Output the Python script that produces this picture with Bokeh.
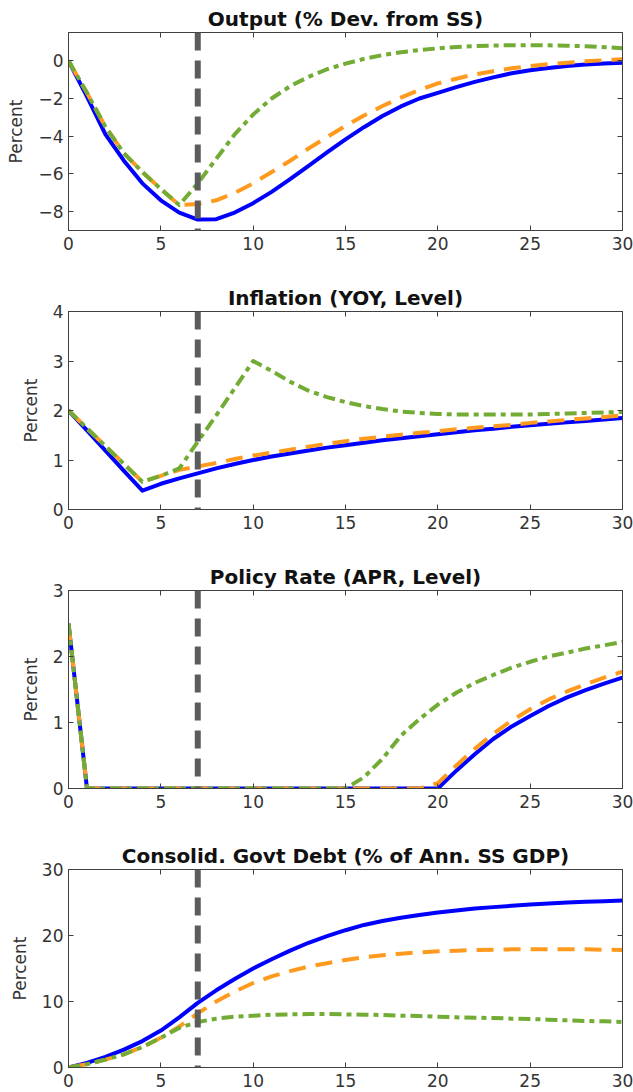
from bokeh.plotting import figure
from bokeh.layouts import column
from bokeh.models import Range1d, FixedTicker, LinearAxis, Span, CustomJSTickFormatter
from bokeh.embed import file_html
from bokeh.resources import INLINE

# ---------------- data ----------------
quarters = list(range(31))
x_ticks = [0, 5, 10, 15, 20, 25, 30]
shock_period = 7

# Output (% Dev. from SS)
output_blue = [0, -1.9, -3.9, -5.3, -6.5, -7.4, -8.05, -8.42, -8.4, -8.05, -7.55, -6.95,
               -6.28, -5.57, -4.86, -4.17, -3.52, -2.93, -2.42, -2.0, -1.7, -1.4, -1.12,
               -0.88, -0.66, -0.5, -0.38, -0.28, -0.2, -0.14, -0.1]
output_orange = [0, -1.7, -3.5, -4.9, -5.9, -6.8, -7.65, -7.6, -7.4, -7.0, -6.5, -5.9,
                 -5.3, -4.65, -4.05, -3.45, -2.9, -2.4, -1.95, -1.55, -1.2, -0.95, -0.72,
                 -0.55, -0.4, -0.28, -0.18, -0.1, -0.03, 0.03, 0.08]
output_green = [0, -1.7, -3.5, -4.9, -5.9, -6.8, -7.65, -6.5, -5.2, -3.9, -2.85, -2.0,
                -1.35, -0.85, -0.45, -0.15, 0.1, 0.3, 0.45, 0.57, 0.66, 0.73, 0.78,
                0.81, 0.83, 0.83, 0.82, 0.8, 0.77, 0.72, 0.67]
output_yticks = [-8, -6, -4, -2, 0]

# Inflation (YOY, Level)
infl_blue = [2.0, 1.6, 1.19, 0.78, 0.38, 0.52, 0.63, 0.73, 0.83, 0.92, 1.0, 1.07,
             1.13, 1.19, 1.25, 1.3, 1.35, 1.4, 1.44, 1.48, 1.52, 1.56, 1.6, 1.63,
             1.67, 1.7, 1.73, 1.76, 1.79, 1.82, 1.85]
infl_orange = [2.0, 1.64, 1.28, 0.92, 0.56, 0.68, 0.8, 0.87, 0.94, 1.02, 1.09, 1.15,
               1.21, 1.27, 1.33, 1.38, 1.43, 1.47, 1.51, 1.55, 1.58, 1.62, 1.65, 1.68,
               1.71, 1.75, 1.78, 1.81, 1.84, 1.87, 1.9]
infl_green = [2.0, 1.64, 1.28, 0.92, 0.56, 0.68, 0.83, 1.37, 1.9, 2.45, 3.0, 2.8,
              2.58, 2.4, 2.27, 2.17, 2.09, 2.03, 1.98, 1.95, 1.93, 1.92, 1.92, 1.92,
              1.92, 1.92, 1.93, 1.94, 1.95, 1.96, 1.97]
infl_yticks = [0, 1, 2, 3, 4]

# Policy Rate (APR, Level)
rate_blue = [2.5, 0, 0, 0, 0, 0, 0, 0, 0, 0, 0, 0, 0, 0, 0, 0, 0, 0, 0, 0, 0,
             0.27, 0.52, 0.75, 0.94, 1.1, 1.25, 1.38, 1.49, 1.59, 1.68]
rate_orange = [2.5, 0, 0, 0, 0, 0, 0, 0, 0, 0, 0, 0, 0, 0, 0, 0, 0, 0, 0, 0, 0.08,
               0.35, 0.6, 0.83, 1.03, 1.2, 1.35, 1.47, 1.58, 1.68, 1.77]
rate_green = [2.5, 0, 0, 0, 0, 0, 0, 0, 0, 0, 0, 0, 0, 0, 0, 0, 0.17, 0.45, 0.8, 1.05,
              1.27, 1.45, 1.6, 1.72, 1.83, 1.92, 2.0, 2.06, 2.12, 2.17, 2.22]
rate_yticks = [0, 1, 2, 3]

# Consolid. Govt Debt (% of Ann. SS GDP)
debt_blue = [0, 0.7, 1.6, 2.7, 4.0, 5.6, 7.6, 9.8, 11.7, 13.4, 15.0, 16.4, 17.7, 18.9,
             19.9, 20.8, 21.6, 22.2, 22.7, 23.1, 23.5, 23.8, 24.1, 24.3, 24.5, 24.7,
             24.85, 25.0, 25.1, 25.2, 25.3]
debt_orange = [0, 0.5, 1.2, 2.0, 3.1, 4.5, 6.2, 8.2, 10.0, 11.5, 12.8, 13.8, 14.6, 15.3,
               15.8, 16.3, 16.7, 17.0, 17.25, 17.45, 17.6, 17.7, 17.8, 17.85, 17.9, 17.9,
               17.9, 17.9, 17.9, 17.85, 17.8]
debt_green = [0, 0.5, 1.2, 2.0, 3.1, 4.5, 6.0, 6.9, 7.4, 7.7, 7.85, 8.0, 8.05, 8.1, 8.1,
              8.05, 8.0, 7.95, 7.85, 7.8, 7.7, 7.6, 7.55, 7.5, 7.4, 7.35, 7.25, 7.15,
              7.05, 7.0, 6.9]
debt_yticks = [0, 10, 20, 30]

titles = ["Output (% Dev. from SS)", "Inflation (YOY, Level)",
          "Policy Rate (APR, Level)", "Consolid. Govt Debt (% of Ann. SS GDP)"]
y_label = "Percent"

# ---------------- style ----------------
BLUE = "#0000FF"
ORANGE = "#FF9A1F"
GREEN = "#72AC34"
GRAY = "#5c5c5c"
AXC = "#404040"
TXT = "#333333"
FONT = "DejaVu Sans"


def style_axis(ax, labels=True, standoff=5):
    ax.axis_line_color = AXC
    ax.major_tick_line_color = AXC
    ax.major_tick_in = 5
    ax.major_tick_out = 0
    ax.minor_tick_line_color = None
    ax.major_label_text_font = FONT
    ax.major_label_text_color = TXT
    ax.major_label_standoff = standoff
    if labels:
        ax.major_label_text_font_size = "17px"
    else:
        ax.major_label_text_font_size = "0px"
        ax.major_label_standoff = 0
        ax.formatter = CustomJSTickFormatter(code="return ''")


def make_panel(title, yr, yticks, blue, orange, green, bottom_border):
    p = figure(frame_width=554, frame_height=198, output_backend="svg",
               toolbar_location=None, x_range=Range1d(0, 30), y_range=Range1d(*yr),
               min_border_left=68, min_border_right=11, min_border_top=32,
               min_border_bottom=bottom_border, background_fill_color="white",
               border_fill_color="white", outline_line_color=AXC)
    p.grid.visible = False
    p.title.text = title
    p.title.align = "center"
    p.title.text_font = FONT
    p.title.text_font_size = "20px"
    p.title.text_font_style = "bold"
    p.title.text_color = "#111111"
    p.title.standoff = 3

    p.xaxis.ticker = FixedTicker(ticks=x_ticks)
    p.yaxis.ticker = FixedTicker(ticks=yticks)
    style_axis(p.xaxis[0], True, 6)
    style_axis(p.yaxis[0], True, 5)
    p.yaxis.axis_label = y_label
    p.yaxis.axis_label_text_font = FONT
    p.yaxis.axis_label_text_font_size = "17px"
    p.yaxis.axis_label_text_font_style = "normal"
    p.yaxis.axis_label_text_color = TXT
    p.yaxis.axis_label_standoff = 9

    top = LinearAxis(ticker=FixedTicker(ticks=x_ticks))
    style_axis(top, False)
    p.add_layout(top, "above")
    right = LinearAxis(ticker=FixedTicker(ticks=yticks))
    style_axis(right, False)
    p.add_layout(right, "right")

    p.line(quarters, blue, line_color=BLUE, line_width=4, line_join="round")
    p.line(quarters, orange, line_color=ORANGE, line_width=4, line_dash="17 10",
           line_join="round")
    p.line(quarters, green, line_color=GREEN, line_width=4, line_dash="12 5 5 5",
           line_join="round")
    p.add_layout(Span(location=shock_period, dimension="height", line_color=GRAY,
                      line_width=6, line_dash="18 10"))
    return p


p1 = make_panel(titles[0], (-9, 1.5), output_yticks, output_blue, output_orange, output_green, 49)
p2 = make_panel(titles[1], (0, 4), infl_yticks, infl_blue, infl_orange, infl_green, 49)
p3 = make_panel(titles[2], (0, 3), rate_yticks, rate_blue, rate_orange, rate_green, 49)
p4 = make_panel(titles[3], (0, 30), debt_yticks, debt_blue, debt_orange, debt_green, 24)

layout = column(p1, p2, p3, p4, spacing=0)
open("out.html", "w").write(file_html(layout, INLINE, title="IRFs"))
